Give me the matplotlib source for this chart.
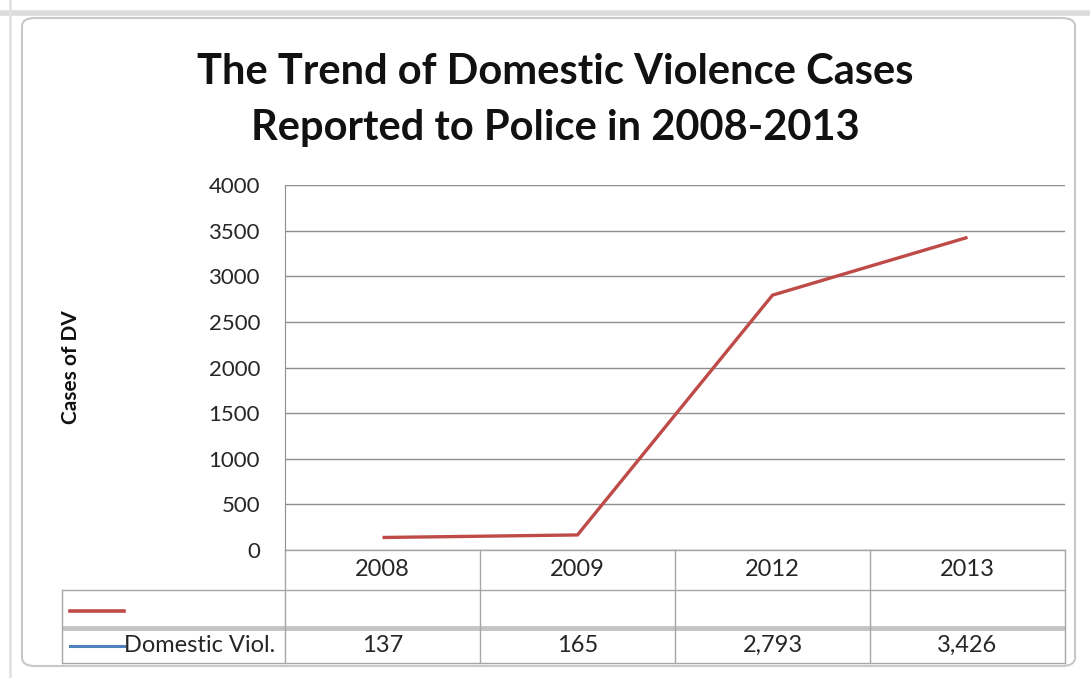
import matplotlib.pyplot as plt
from matplotlib.patches import FancyBboxPatch
from matplotlib.lines import Line2D

years = ["2008", "2009", "2012", "2013"]
cases = [137, 165, 2793, 3426]
table_values = ["137", "165", "2,793", "3,426"]
series_label = "Domestic Viol."
yticks = [0, 500, 1000, 1500, 2000, 2500, 3000, 3500, 4000]

RED = "#BE4B48"
BLUE = "#4F81BD"
GRID = "#8e8e8e"
TABLE = "#a6a6a6"
TXT = "#262626"

plt.rcParams["font.family"] = ["Lato", "DejaVu Sans"]

fig = plt.figure(figsize=(10.9, 6.78), dpi=100)

# spreadsheet edges behind the chart
fig.add_artist(Line2D([0, 1], [1 - 13 / 678] * 2, transform=fig.transFigure,
                      color="#dcdcdc", linewidth=4, zorder=-6))
fig.add_artist(Line2D([10 / 1090] * 2, [0, 1], transform=fig.transFigure,
                      color="#e2e2e2", linewidth=2, zorder=-6))

# chart frame
frame = FancyBboxPatch((22 / 1090, 1 - 666 / 678), 1053 / 1090, 648 / 678,
                       boxstyle="round,pad=0,rounding_size=0.012",
                       transform=fig.transFigure, facecolor="white",
                       edgecolor="#c8c8c8", linewidth=1.5, zorder=-5)
fig.add_artist(frame)

ax = fig.add_axes([285 / 1090, 1 - 550 / 678, 780 / 1090, 365 / 678])
ax.patch.set_alpha(0)
x = list(range(len(years)))
ax.plot(x, cases, color=RED, linewidth=2.4, solid_capstyle="butt", zorder=3)
ax.set_xlim(-0.5, len(years) - 0.5)
ax.set_ylim(0, 4000)
ax.set_yticks(yticks)
ax.set_yticklabels([str(v) for v in yticks], fontsize=16, color=TXT)
ax.set_xticks([])
ax.tick_params(axis="y", length=0, pad=18)
for v in yticks:
    ax.axhline(v, color=GRID, linewidth=1.0, zorder=0)
for side in ["top", "right", "bottom"]:
    ax.spines[side].set_visible(False)
ax.spines["left"].set_color(GRID)
ax.set_ylabel("Cases of DV", fontsize=15, fontweight="bold", color="#111111")
ax.yaxis.set_label_coords(-0.262, 0.5)

fig.text(555 / 1090, 1 - 72 / 678, "The Trend of Domestic Violence Cases",
         ha="center", va="center", fontsize=30, fontweight="bold", color="#111111")
fig.text(555 / 1090, 1 - 128 / 678, "Reported to Police in 2008-2013",
         ha="center", va="center", fontsize=30, fontweight="bold", color="#111111")

# data table under the axis (axes coordinates)
px = 1 / 365
r0, r1, r2, r3 = 0, -40 * px, -78 * px, -113 * px
left = (62 - 285) / 780
n = len(years)
tr = ax.transAxes

def hline(y, x0, x1, lw=1.0, color=TABLE):
    ax.add_line(Line2D([x0, x1], [y, y], transform=tr, color=color,
                       linewidth=lw, clip_on=False, solid_capstyle="butt"))

def vline(xv, y0, y1, lw=1.0):
    ax.add_line(Line2D([xv, xv], [y0, y1], transform=tr, color=TABLE,
                       linewidth=lw, clip_on=False))

hline(r0, 0, 1)
hline(r1, left, 1)
hline(r2, left, 1, lw=3.5, color="#c4c4c4")
hline(r3, left, 1)
vline(left, r1, r3)
for i in range(n + 1):
    vline(i / n, r0, r3)

for i, (yr, val) in enumerate(zip(years, table_values)):
    cx = (i + 0.5) / n
    ax.text(cx, (r0 + r1) / 2, yr, transform=tr, ha="center", va="center",
            fontsize=17, color=TXT)
    ax.text(cx, (r2 + r3) / 2, val, transform=tr, ha="center", va="center",
            fontsize=17, color=TXT)

# legend keys in the table
lk0, lk1 = left + 8 / 780, left + 62 / 780
ax.add_line(Line2D([lk0, lk1], [(r1 + r2) / 2 - 2 * px] * 2, transform=tr,
                   color=RED, linewidth=2.6, clip_on=False))
ax.add_line(Line2D([lk0, lk1], [(r2 + r3) / 2] * 2, transform=tr,
                   color=BLUE, linewidth=2.2, clip_on=False))
ax.text(lk1, (r2 + r3) / 2, series_label, transform=tr, ha="left", va="center",
        fontsize=17, color=TXT)

fig.savefig("out.png", dpi=100)
